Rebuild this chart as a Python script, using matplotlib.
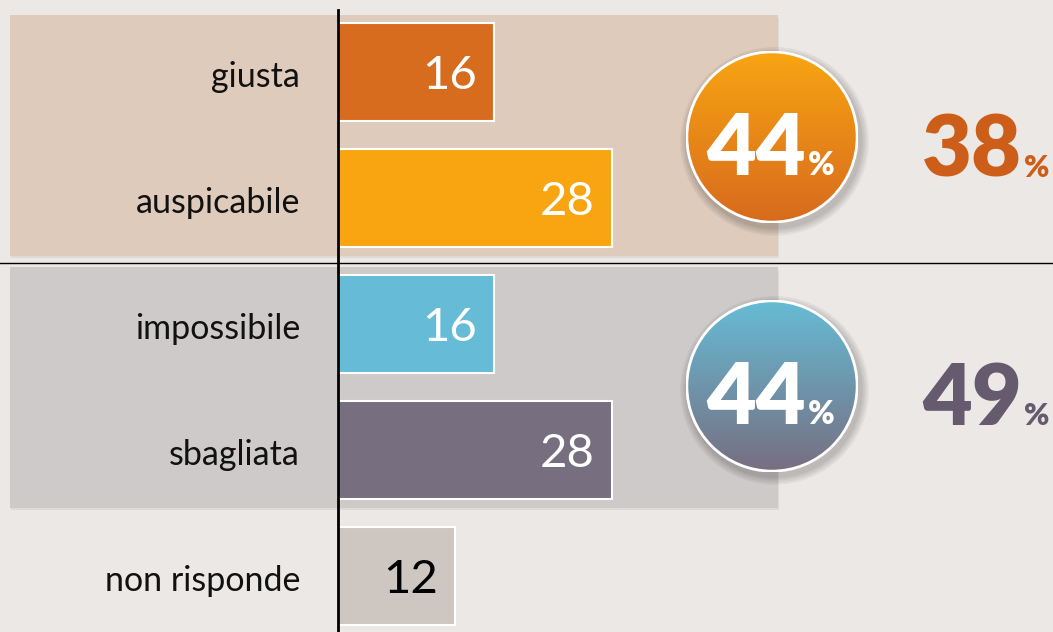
import numpy as np
import matplotlib.pyplot as plt
from matplotlib.patches import Rectangle, Circle

# data
categories = ['giusta', 'auspicabile', 'impossibile', 'sbagliata', 'non risponde']
values = [16, 28, 16, 28, 12]
groups = [[0, 1], [2, 3]]          # which bars form each group
group_right = [38, 49]             # numbers shown on the right

bar_colors = ['#D86C1E', '#F9A411', '#66BCD6', '#776E80', '#CEC6C1']
label_colors = ['white', 'white', 'white', 'white', 'black']
panel_colors = ['#DECBBC', '#CFCACA']
circle_top = ['#F8A512', '#66BCD6']
circle_bot = ['#D76A1E', '#776E80']
right_colors = ['#CD5E1A', '#655A6E']
bg = '#ECE8E5'

plt.rcParams['font.family'] = ['Lato', 'DejaVu Sans']

W, H = 1053, 632
fig = plt.figure(figsize=(W / 100, H / 100), dpi=100)
fig.patch.set_facecolor(bg)
ax = fig.add_axes([0, 0, 1, 1])
ax.set_facecolor(bg)

# pixel -> data mapping: x zero at px 338, 9.78 px per unit; rows 126 px apart
px_unit = 9.78
x0 = 338
ax.set_xlim(-x0 / px_unit, (W - x0) / px_unit)
ax.set_ylim((H - 72) / 126, -72 / 126)
ax.axis('off')

pos = np.arange(len(categories))

# shaded group panels
panel_x0 = (10 - x0) / px_unit
panel_x1 = (778 - x0) / px_unit
for g, col in zip(groups, panel_colors):
    top = min(g) - 0.45
    bot = max(g) + 0.46
    ax.add_patch(Rectangle((panel_x0 + 0.15, top + 0.02), panel_x1 - panel_x0, bot - top,
                           color='#000000', alpha=0.06, lw=0, zorder=0))
    ax.add_patch(Rectangle((panel_x0, top), panel_x1 - panel_x0, bot - top,
                           color=col, lw=0, zorder=1))

ax.axhline(1.515, color='black', lw=1, zorder=2)

bars = ax.barh(pos, values, height=0.78, color=bar_colors, edgecolor='white',
               linewidth=1.5, zorder=3)
ax.plot([0, 0], [-0.49, (H - 72) / 126], color='black', lw=2, zorder=4)

for p, cat, v, lc in zip(pos, categories, values, label_colors):
    ax.text(-38 / px_unit, p + 0.04, cat, ha='right', va='center', fontsize=24.5,
            color='#111111', zorder=5)
    ax.text(v - 1.75, p + 0.03, str(v), ha='right', va='center', fontsize=34, color=lc, zorder=5)

# gradient circles with group totals
circ_boxes = [(686, 51), (686, 300)]
size = 172
for gi, g in enumerate(groups):
    lx, ty = circ_boxes[gi]
    cax = fig.add_axes([lx / W, (H - ty - size) / H, size / W, size / H])
    cax.set_xlim(0, 1)
    cax.set_ylim(0, 1)
    cax.axis('off')
    # soft shadow
    for k, a in enumerate([0.05, 0.05, 0.05, 0.06]):
        r = 0.5 + (4 - k) * 0.012
        cax.add_patch(Circle((0.515, 0.475), r, color='black', alpha=a, lw=0,
                             clip_on=False, zorder=1))
    c1 = np.array(plt.matplotlib.colors.to_rgb(circle_top[gi]))
    c2 = np.array(plt.matplotlib.colors.to_rgb(circle_bot[gi]))
    t = np.linspace(0, 1, 256)[:, None]
    grad = (c1 * (1 - t) + c2 * t)[:, None, :]
    im = cax.imshow(grad, extent=[0, 1, 0, 1], origin='upper', aspect='auto', zorder=2)
    clip = Circle((0.5, 0.5), 0.5, transform=cax.transData)
    im.set_clip_path(clip)
    cax.add_patch(Circle((0.5, 0.5), 0.495, fill=False, edgecolor='white', lw=2, zorder=3))
    total = sum(values[i] for i in g)
    cax.text(0.695, 0.279, str(total), ha='right', va='baseline', fontsize=62,
             fontweight='heavy', color='white', zorder=4)
    cax.text(0.71, 0.279, '%', ha='left', va='baseline', fontsize=23,
             fontweight='heavy', color='white', zorder=4)

    # right-hand group figure
    by = 177 if gi == 0 else 425
    ax.text(1022 / W, 1 - by / H, str(group_right[gi]), transform=ax.transAxes,
            ha='right', va='baseline', fontsize=62, fontweight='heavy', color=right_colors[gi])
    ax.text(1024 / W, 1 - by / H, '%', transform=ax.transAxes,
            ha='left', va='baseline', fontsize=22, fontweight='heavy', color=right_colors[gi])

fig.savefig('out.png', dpi=100, facecolor=bg)
